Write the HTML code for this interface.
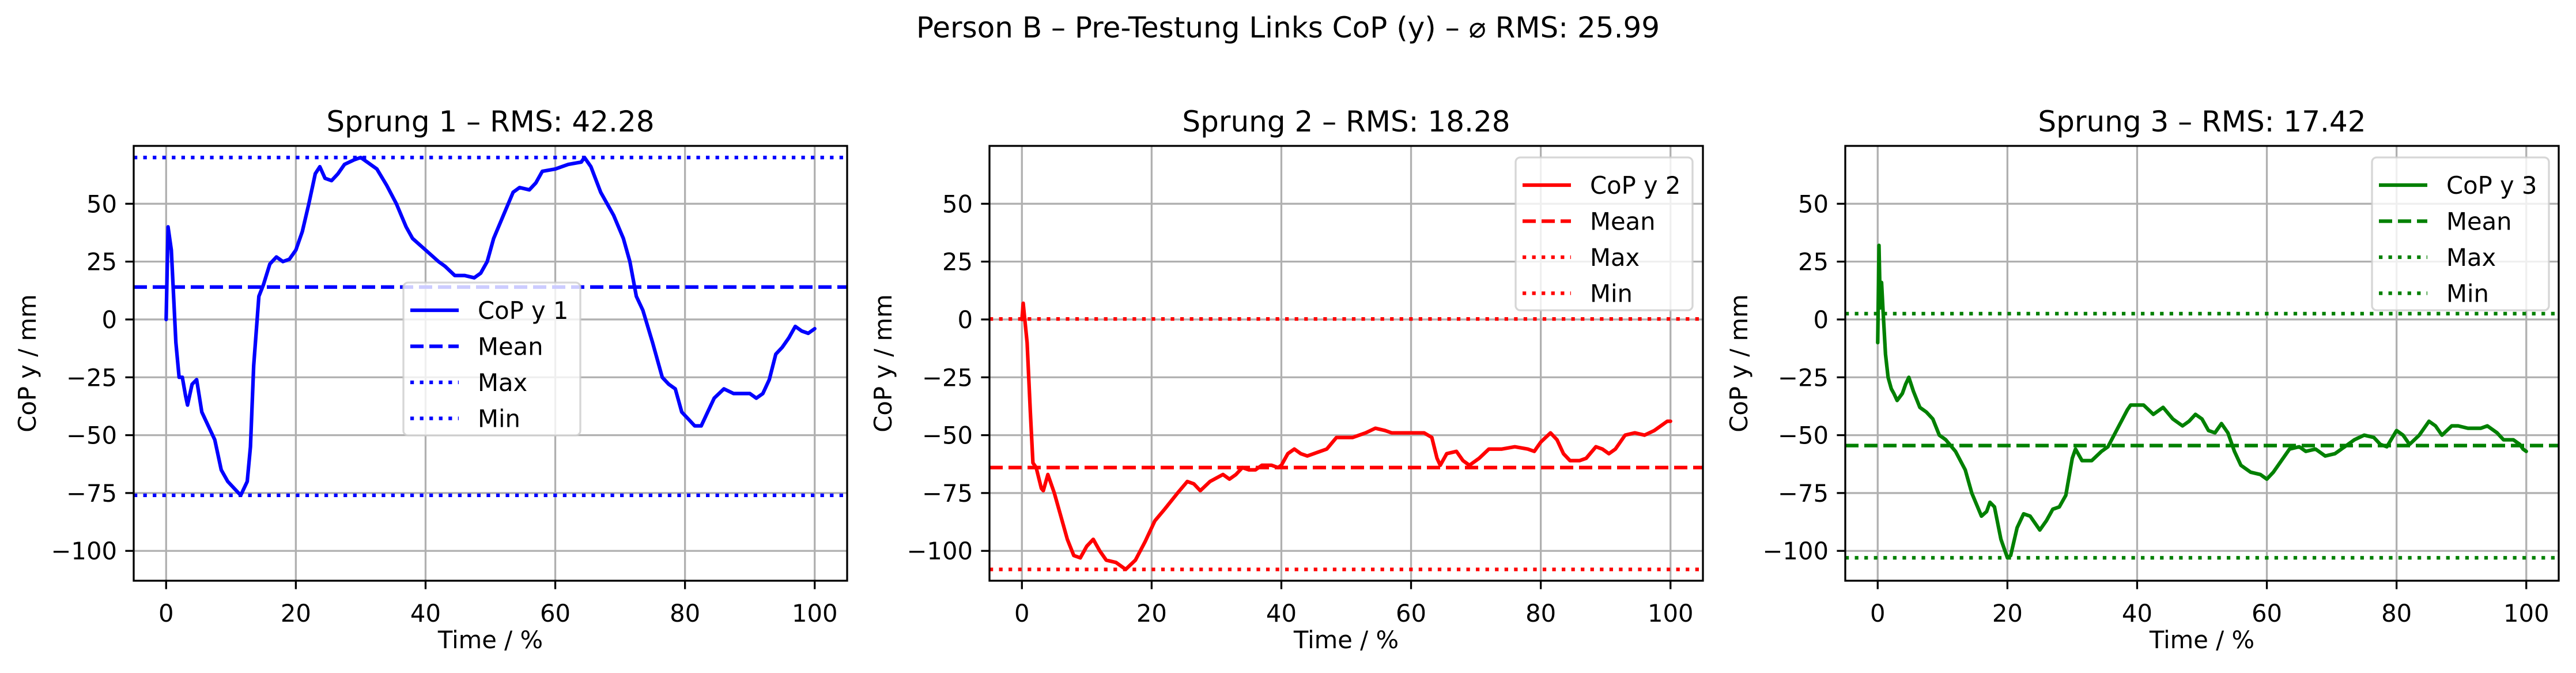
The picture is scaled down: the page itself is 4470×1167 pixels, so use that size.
<!DOCTYPE html>
<html><head><meta charset="utf-8"><style>
html,body{margin:0;padding:0;background:#fff;}
svg{display:block;font-family:"DejaVu Sans","Liberation Sans",sans-serif;}
</style></head><body>
<svg id="fig" width="4470" height="1167" viewBox="0 0 4470 1167" xmlns="http://www.w3.org/2000/svg">
<rect width="4470" height="1167" fill="#fff"/>
<text x="2235" y="65" font-size="50" text-anchor="middle">Person B – Pre-Testung Links CoP (y) – ⌀ RMS: 25.99</text>
</svg>
<script>
const xTicks = [0, 20, 40, 60, 80, 100];
const yTicks = [-100, -75, -50, -25, 0, 25, 50];
const yTickLabels = ["−100", "−75", "−50", "−25", "0", "25", "50"];
const titles = ["Sprung 1 – RMS: 42.28", "Sprung 2 – RMS: 18.28", "Sprung 3 – RMS: 17.42"];
const seriesNames = ["CoP y 1", "CoP y 2", "CoP y 3"];
const colors = ["#0000ff", "#ff0000", "#008000"];
const meanVals = [14, -64, -54.5];
const maxVals = [70, 0.2, 2.5];
const minVals = [-76, -108, -103];
const x1 = [0,0.3,0.8,1.5,2,2.5,3,3.3,4,4.7,5.5,6.5,7.5,8.5,9.5,10.5,11.5,12.5,13,13.5,14.3,15,16,17,18,19,20,21,22,23,23.7,24.5,25.5,26.5,27.5,29,30,31,32.5,34,35.5,37,38,40,42,43,44.5,46,47.5,48.5,49.5,50.5,52,53.5,54.5,56,57,58,60,62,64,64.5,65.5,67,69,70.5,71.5,72.5,73.5,75,76.5,77.5,78.5,79.5,80.5,81.5,82.5,83.5,84.5,86,87.5,89,90,91,92,93,94,95,96,97,98,99,100];
const y1 = [0,40,30,-10,-25,-25,-33,-37,-28,-26,-40,-46,-52,-65,-70,-73,-76,-70,-55,-20,10,15,24,27,25,26,30,38,50,63,66,61,60,63,67,69,70,68,65,58,50,40,35,30,25,23,19,19,18,20,25,35,45,55,57,56,59,64,65,67,68,70,66,55,45,35,25,10,4,-10,-25,-28,-30,-40,-43,-46,-46,-40,-34,-30,-32,-32,-32,-34,-32,-26,-15,-12,-8,-3,-5,-6,-4];
const x2 = [0,0.2,0.8,1.3,1.7,2.2,3,3.3,4,5,6,7,8,9,10,11,12,13,14.5,16,17.5,19,20.5,22,24,25.5,26.5,27.5,29,31,32,33,34,35,36,37,38.5,39.5,40,41,42,43,44,45,47,48.5,50,51,53,54.5,56,57,59,61,62,63.2,64,64.5,65.5,67,68,69,70.5,72,74,76,78,79,80,81.5,82.5,83.5,84.5,86,87,88.5,89.5,90.5,91.5,93,94.5,96,97.5,99.5,100];
const y2 = [0,7,-10,-40,-62,-64,-73,-74,-67,-75,-85,-95,-102,-103,-98,-95,-100,-104,-105,-108,-104,-96,-87,-82,-75,-70,-71,-74,-70,-67,-69,-67,-64,-65,-65,-63,-63,-64,-63,-58,-56,-58,-59,-58,-56,-51,-51,-51,-49,-47,-48,-49,-49,-49,-49,-51,-60,-63,-58,-57,-61,-63,-60,-56,-56,-55,-56,-57,-53,-49,-52,-58,-61,-61,-60,-55,-56,-58,-56,-50,-49,-50,-48,-44,-44];
const x3 = [0,0.2,0.4,0.6,0.8,1.2,1.6,2.1,2.5,3,3.8,4.3,4.8,5.5,6.5,7.5,8.5,9.5,10.5,12,13.5,14.5,16,16.8,17.3,18,19,20,20.5,21.5,22.5,23.5,25,26,27,28,29,30,30.5,31.5,33,34.5,35.5,37,38.5,39,40,41,42.5,44,45.5,47,48,49,50,51,52,53,54,55,56,57.5,59,60,61,62.5,63.5,65,66,67.5,69,70.5,72,73.5,75,76.5,77.5,78.5,80,81,82,83.5,85,86,87,88.5,89.5,91,93,94,95.5,96.5,98,99,99.5,100];
const y3 = [-10,32,5,16,5,-15,-25,-30,-32,-35,-32,-28,-25,-31,-38,-40,-43,-50,-52,-57,-65,-75,-85,-83,-79,-81,-95,-103,-102,-90,-84,-85,-91,-87,-82,-81,-76,-60,-56,-61,-61,-57,-55,-47,-39,-37,-37,-37,-41,-38,-43,-46,-44,-41,-43,-48,-49,-45,-49,-57,-63,-66,-67,-69,-66,-60,-56,-55,-57,-56,-59,-58,-55,-52,-50,-51,-54,-55,-48,-50,-54,-50,-44,-46,-50,-46,-46,-47,-47,-46,-49,-52,-52,-54,-56,-57];
const xs = [x1, x2, x3], ys = [y1, y2, y3];

const NS = "http://www.w3.org/2000/svg";
const fig = document.getElementById("fig");
function mk(tag, attrs, parent) {
  const e = document.createElementNS(NS, tag);
  for (const k in attrs) e.setAttribute(k, attrs[k]);
  (parent || fig).appendChild(e);
  return e;
}
const panelLefts = [232, 1717, 3202];
const W = 1238, TOP = 253, BOT = 1007;
const XMIN = -5, XMAX = 105, YMIN = -112.9, YMAX = 75;
const legendBoxes = [[700, 490], [2630, 273], [4116, 273]];

for (let p = 0; p < 3; p++) {
  const L = panelLefts[p];
  const sx = v => L + (v - XMIN) / (XMAX - XMIN) * W;
  const sy = v => BOT - (v - YMIN) / (YMAX - YMIN) * (BOT - TOP);
  const g = mk("g", {});
  
  
  const clipId = "clip" + p;
  const cp = mk("clipPath", {id: clipId}, g);
  mk("rect", {x: L, y: TOP, width: W, height: BOT - TOP}, cp);
  xTicks.forEach(t => {
    const gl = mk("line", {x1: sx(t), x2: sx(t), y1: TOP, y2: BOT, stroke: "#b0b0b0", "stroke-width": 3.3}, g);
    
    
  });
  yTicks.forEach(t => {
    const gl = mk("line", {x1: L, x2: L + W, y1: sy(t), y2: sy(t), stroke: "#b0b0b0", "stroke-width": 3.3}, g);
    
    
  });
  const c = colors[p];
  const refs = [[meanVals[p], "23,10", "mean-line"], [maxVals[p], "6.25,10.3", "max-line"], [minVals[p], "6.25,10.3", "min-line"]];
  refs.forEach(r => {
    const ln = mk("line", {x1: L, x2: L + W, y1: sy(r[0]), y2: sy(r[0]), stroke: c, "stroke-width": 6.25, "stroke-dasharray": r[1]}, g);
    
    
  });
  let d = "";
  xs[p].forEach((x, i) => { d += (i ? "L" : "M") + sx(x).toFixed(1) + " " + sy(ys[p][i]).toFixed(1); });
  const path = mk("path", {d: d, fill: "none", stroke: c, "stroke-width": 6.25, "stroke-linejoin": "round", "stroke-linecap": "round", "clip-path": "url(#" + clipId + ")"}, g);
  
  
  const fr = mk("rect", {x: L, y: TOP, width: W, height: BOT - TOP, fill: "none", stroke: "#000", "stroke-width": 3.3}, g);
  
  
  xTicks.forEach(t => {
    mk("line", {x1: sx(t), x2: sx(t), y1: BOT, y2: BOT + 14.6, stroke: "#000", "stroke-width": 3.3}, g);
    const tx = mk("text", {x: sx(t), y: BOT + 71, "font-size": 41.7, "text-anchor": "middle"}, g);
    tx.textContent = t;
    
    
  });
  yTicks.forEach((t, i) => {
    mk("line", {x1: L - 14.6, x2: L, y1: sy(t), y2: sy(t), stroke: "#000", "stroke-width": 3.3}, g);
    const tx = mk("text", {x: L - 29, y: sy(t) + 15, "font-size": 41.7, "text-anchor": "end"}, g);
    tx.textContent = yTickLabels[i];
    
    
  });
  const tt = mk("text", {x: L + W / 2, y: 228, "font-size": 50, "text-anchor": "middle"}, g);
  tt.textContent = titles[p];
  
  
  const xl = mk("text", {x: L + W / 2, y: 1124, "font-size": 41.7, "text-anchor": "middle"}, g);
  xl.textContent = "Time / %";
  
  
  const ycx = L - 170, ycy = (TOP + BOT) / 2;
  const yl = mk("text", {x: ycx, y: ycy, "font-size": 41.7, "text-anchor": "middle", transform: "rotate(-90 " + ycx + " " + ycy + ")"}, g);
  yl.textContent = "CoP y / mm";
  
  
  const [lx, ly] = legendBoxes[p];
  const lg = mk("g", {}, g);
  
  
  mk("rect", {x: lx, y: ly, width: 307, height: 265, rx: 8, fill: "#fff", "fill-opacity": 0.8, stroke: "#cccccc", "stroke-opacity": 0.8, "stroke-width": 3.3}, lg);
  const labels = [seriesNames[p], "Mean", "Max", "Min"];
  const dashes = ["none", "23,10", "6.25,10.3", "6.25,10.3"];
  const entryNames = ['legend-entry-series', 'legend-entry-mean', 'legend-entry-max', 'legend-entry-min'];
  labels.forEach((lab, i) => {
    const cy = ly + 48 + i * 62.5;
    const eg = mk("g", {}, lg);
    
    
    mk("line", {x1: lx + 12, x2: lx + 96, y1: cy, y2: cy, stroke: c, "stroke-width": 6.25, "stroke-dasharray": dashes[i]}, eg);
    const t = mk("text", {x: lx + 129, y: cy + 15, "font-size": 41.7}, eg);
    t.textContent = lab;
  });
}
</script>
</body></html>
